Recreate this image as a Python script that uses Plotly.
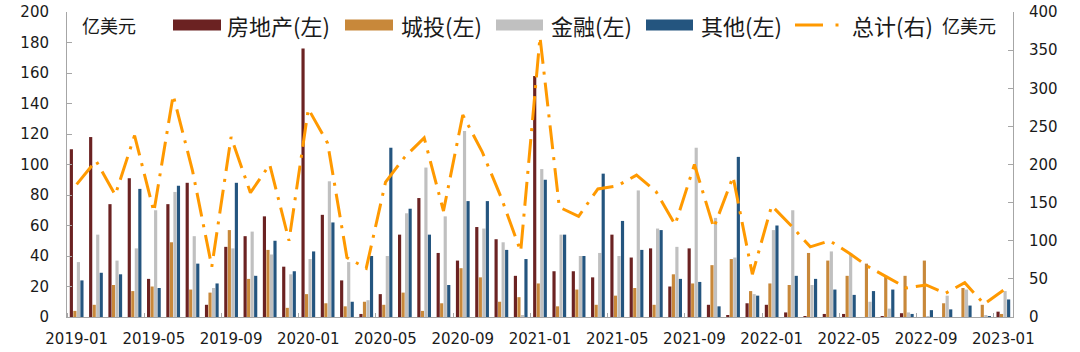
import plotly.graph_objects as go

months = ["2019-01","2019-02","2019-03","2019-04","2019-05","2019-06","2019-07","2019-08","2019-09","2019-10","2019-11","2019-12",
          "2020-01","2020-02","2020-03","2020-04","2020-05","2020-06","2020-07","2020-08","2020-09","2020-10","2020-11","2020-12",
          "2021-01","2021-02","2021-03","2021-04","2021-05","2021-06","2021-07","2021-08","2021-09","2021-10","2021-11","2021-12",
          "2022-01","2022-02","2022-03","2022-04","2022-05","2022-06","2022-07","2022-08","2022-09","2022-10","2022-11","2022-12",
          "2023-01"]

real_estate = [110,118,74,91,25,74,88,8,46,53,66,33,
               176,67,24,2,15,54,78,42,37,59,51,27,
               158,30,30,26,54,39,45,20,45,8,1,9,
               8,3,0.4,2,2,0,0.5,2.5,0,0,0,0,
               3.5]
lgfv = [4,8,21,17,20,49,18,16,57,25,44,6,
        15,9,7,10,8,16,4,9,32,26,10,13,
        22,7,18,8,14,19,8,28,22,34,38,17,
        22,21,42,37,27,35,27,27,37,9,19,8,
        2]
finance = [36,54,37,45,70,82,53,19,45,56,41,28,
           38,89,36,11,40,68,98,66,122,58,49,1,
           97,54,40,42,40,83,58,46,111,65,39,15,
           57,70,21,43,42,10,5.5,3,0.5,14,18,1,
           17]
other = [24,29,28,84,19,86,35,22,88,27,50,30,
         43,62,10,40,111,71,54,21,76,76,44,38,
         90,54,40,94,63,44,57,25,23,7,105,14,
         60,27,25,18,14.5,17,18,2,4.5,5,7.5,0.5,
         11.5]
total = [174,205,160,238,138,291,192,66,236,163,200,100,
         273,228,78,64,177,210,235,139,265,217,156,86,
         367,144,132,168,172,186,165,121,200,117,184,56,
         146,120,92,100,84,66,52,38,42,31,45,17,
         35]

legend_names = ["房地产(左)", "城投(左)", "金融(左)", "其他(左)", "总计(右)"]
unit_label = "亿美元"

C_BROWN = "#6B2222"
C_ORANGE = "#C8883A"
C_GRAY = "#C0C0C0"
C_BLUE = "#24557F"
C_LINE = "#FF9900"
AX = "#A6A6A6"

idx = list(range(len(months)))

fig = go.Figure()
for vals, name, col in [(real_estate, legend_names[0], C_BROWN), (lgfv, legend_names[1], C_ORANGE),
                        (finance, legend_names[2], C_GRAY), (other, legend_names[3], C_BLUE)]:
    fig.add_trace(go.Bar(x=idx, y=vals, name=name, marker=dict(color=col, line=dict(width=0)), yaxis="y"))

fig.add_trace(go.Scatter(x=idx, y=total, name=legend_names[4], mode="lines", yaxis="y2",
                         line=dict(color=C_LINE, width=3, dash="24px,8px,3px,8px")))

W, H = 1080, 352
L, R, T, B = 67, 1013, 12, 317

def px(xp):
    return (xp - L) / (R - L)

def py(yp):
    return (B - yp) / (B - T)

tickfont = dict(family="DejaVu Sans", size=15, color="#1a1a1a")
cjk = "Noto Sans CJK SC"

shapes = []
annotations = []
sw = [(173, 221, C_BROWN, 225), (345, 393, C_ORANGE, 399), (496, 543, C_GRAY, 549), (646, 693, C_BLUE, 699)]
for (x0, x1, col, tx), name in zip(sw, legend_names[:4]):
    shapes.append(dict(type="rect", xref="paper", yref="paper", x0=px(x0), x1=px(x1), y0=py(30.5), y1=py(19.5),
                       fillcolor=col, line=dict(width=0)))
    annotations.append(dict(xref="paper", yref="paper", x=px(tx), y=py(25), xanchor="left", yanchor="middle",
                            text=name, showarrow=False, font=dict(family=cjk, size=22, color="#1a1a1a")))
shapes.append(dict(type="line", xref="paper", yref="paper", x0=px(795), x1=px(823), y0=py(25), y1=py(25),
                   line=dict(color=C_LINE, width=3)))
shapes.append(dict(type="line", xref="paper", yref="paper", x0=px(835.5), x1=px(838.5), y0=py(25), y1=py(25),
                   line=dict(color=C_LINE, width=3)))
annotations.append(dict(xref="paper", yref="paper", x=px(850), y=py(25), xanchor="left", yanchor="middle",
                        text=legend_names[4], showarrow=False, font=dict(family=cjk, size=22, color="#1a1a1a")))
annotations.append(dict(xref="paper", yref="paper", x=px(80), y=py(25), xanchor="left", yanchor="middle",
                        text=unit_label, showarrow=False, font=dict(family=cjk, size=18, color="#1a1a1a")))
annotations.append(dict(xref="paper", yref="paper", x=px(998), y=py(25), xanchor="right", yanchor="middle",
                        text=unit_label, showarrow=False, font=dict(family=cjk, size=18, color="#1a1a1a")))

fig.update_layout(
    width=W, height=H,
    margin=dict(l=L, r=W - R, t=T, b=H - B, pad=0, autoexpand=False),
    paper_bgcolor="white", plot_bgcolor="white",
    barmode="group", bargap=0.27, bargroupgap=0.1,
    showlegend=False,
    shapes=shapes, annotations=annotations,
    xaxis=dict(range=[-0.5, len(months) - 0.5], tickmode="array", tickvals=idx[::4], ticktext=months[::4],
               ticks="", showline=True, linecolor=AX, linewidth=1, showgrid=False, zeroline=False,
               tickfont=tickfont, ticklabelstandoff=8, automargin=False,
               minor=dict(tickmode="array", tickvals=[i - 0.5 for i in idx[::4]], ticks="inside", ticklen=4,
                          tickcolor=AX, tickwidth=1, showgrid=False)),
    yaxis=dict(range=[0, 200], dtick=20, tick0=0, ticks="inside", ticklen=5, tickcolor=AX, showline=True,
               linecolor=AX, linewidth=1, showgrid=False, zeroline=False, tickfont=tickfont,
               ticklabelstandoff=14, automargin=False),
    yaxis2=dict(range=[0, 400], dtick=50, tick0=0, ticks="inside", ticklen=5, tickcolor=AX, showline=True,
                linecolor=AX, linewidth=1, showgrid=False, zeroline=False, tickfont=tickfont,
                overlaying="y", side="right", ticklabelstandoff=12, automargin=False),
)

fig.write_html("out.html")
